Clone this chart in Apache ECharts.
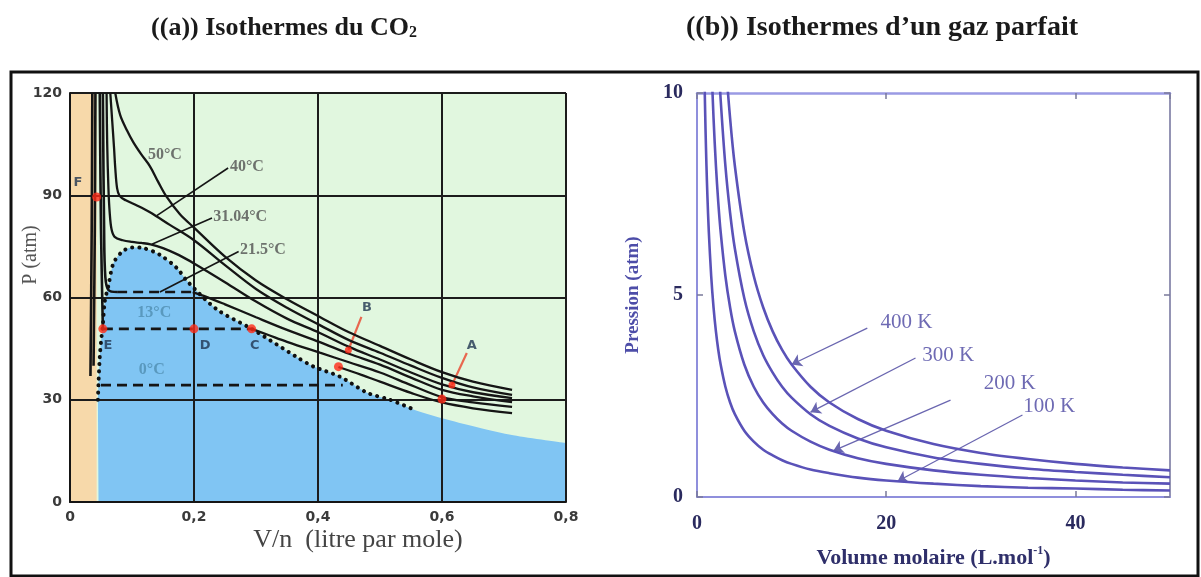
<!DOCTYPE html>
<html><head><meta charset="utf-8">
<script src="https://cdn.jsdelivr.net/npm/echarts@6/dist/echarts.min.js"></script>
<style>html,body{margin:0;padding:0;background:#fff}#c{width:1201px;height:577px}</style>
</head><body><div id="c"></div>
<script>
// ---------- Panel (a) : CO2 isotherms ----------
const aXTicks = ['0', '0,2', '0,4', '0,6', '0,8'];
const aYTicks = ['0', '30', '60', '90', '120'];
const liquidZone = [0, 0.043];
const domeDotted = [[0.045,30],[0.046,35],[0.048,42.5],[0.05,47],[0.053,52],[0.056,58.7],[0.062,63.5],[0.07,70],[0.084,73.4],[0.1,74.7],[0.118,74.5],[0.145,72.5],[0.172,68.7],[0.19,64.6],[0.237,56.5],[0.293,50.8],[0.366,42.5],[0.392,39.8],[0.435,36.8],[0.48,32],[0.516,30],[0.556,27]];
const vapourEdge = [[0.608,24.2],[0.66,21.8],[0.715,19.6],[0.8,17.3]];
const iso50 = [[0.073,120],[0.081,113.5],[0.092,109],[0.102,105.6],[0.115,102],[0.129,98.5],[0.142,94],[0.156,89.5],[0.177,84.5],[0.2,80.5],[0.25,72],[0.3,65],[0.35,59.5],[0.403,54.3],[0.45,49.8],[0.5,45.8],[0.55,41.8],[0.6,38.1],[0.65,35.3],[0.713,32.9]];
const iso40 = [[0.065,120],[0.068,112],[0.071,104],[0.073,98],[0.076,92],[0.08,89.8],[0.09,88.5],[0.108,87],[0.129,85],[0.161,81.3],[0.2,76.8],[0.25,69.5],[0.3,62.5],[0.35,57],[0.403,51.9],[0.45,47.5],[0.5,43.8],[0.55,40],[0.6,36.4],[0.65,33.6],[0.713,31.4]];
const iso31 = [[0.059,120],[0.06,105],[0.062,92],[0.064,85],[0.067,80],[0.072,77.8],[0.085,76.8],[0.1,76.3],[0.115,76],[0.13,75.6],[0.15,74.5],[0.175,72.5],[0.2,70],[0.25,64.5],[0.3,58.8],[0.35,53.8],[0.403,49.6],[0.45,45.5],[0.5,41.8],[0.55,38],[0.6,34.5],[0.65,32.2],[0.713,30.5]];
const iso21 = [[0.198,61.6],[0.22,60.2],[0.25,58],[0.3,54.2],[0.35,50.5],[0.403,46.9],[0.45,43.5],[0.5,40.3],[0.55,36.5],[0.6,32.9],[0.65,31],[0.713,29.3]];
const iso13 = [[0.293,50.8],[0.32,49],[0.35,47],[0.403,43.8],[0.45,41],[0.5,38],[0.55,34.3],[0.6,30.8],[0.65,29.2],[0.713,27.9]];
const iso0 = [[0.433,39.6],[0.47,37.3],[0.5,35.3],[0.55,32],[0.6,29.2],[0.65,27.5],[0.713,26.1]];
const liq0 = [[0.036,120],[0.035,80],[0.033,37]];
const liq0b = [[0.041,120],[0.04,80],[0.038,40]];
const liq13 = [[0.048,120],[0.05,80],[0.053,50.8]];
const liq21 = [[0.053,120],[0.055,80],[0.057,66],[0.062,62.2],[0.076,61.6]];
const plateau21 = [[0.076,61.6],[0.198,61.6]];
const plateau13 = [[0.053,50.8],[0.293,50.8]];
const plateau0 = [[0.05,34.3],[0.44,34.3]];
const redPoints = [[0.043,89.5],[0.053,50.8],[0.2,50.8],[0.293,50.8],[0.449,44.6],[0.433,39.7],[0.616,34.3],[0.6,30.2]];
const pointNames = ['F','E','D','C','B','A'];
const pointNamePos = [[0.013,93.6],[0.061,46],[0.218,46],[0.298,46],[0.479,57],[0.648,46]];
const tempNames = ['50°C','40°C','31.04°C','21.5°C','13°C','0°C'];
const tempNamePos = [[0.153,101.8],[0.258,98.3],[0.231,83.6],[0.274,74],[0.136,55.5],[0.132,38.7]];
const leaders = [[[0.255,98],[0.14,84]],[[0.229,83.3],[0.132,75.6]],[[0.272,73.5],[0.145,61.6]]];
const redLeaders = [[[0.47,54.3],[0.449,44.6]],[[0.64,43.7],[0.616,34.3]]];

// ---------- Panel (b) : ideal gas ----------
const bXTicks = [0, 20, 40];
const bYTicks = [0, 5, 10];
const volumes = [0.8,0.9,1,1.1,1.25,1.5,1.75,2,2.25,2.5,3,3.5,4,5,6,7,8,9,10,12,14,17,20,25,30,35,40,45,50];
const p100 = [10.25,9.11,8.2,7.45,6.56,5.47,4.69,4.1,3.64,3.28,2.73,2.34,2.05,1.64,1.37,1.17,1.03,0.91,0.82,0.68,0.59,0.48,0.41,0.33,0.27,0.23,0.21,0.18,0.16];
const p200 = [20.5,18.2,16.4,14.9,13.1,10.9,9.37,8.2,7.29,6.56,5.47,4.69,4.1,3.28,2.73,2.34,2.05,1.82,1.64,1.37,1.17,0.96,0.82,0.66,0.55,0.47,0.41,0.36,0.33];
const p300 = [30.8,27.3,24.6,22.4,19.7,16.4,14.1,12.3,10.9,9.84,8.2,7.03,6.15,4.92,4.1,3.51,3.08,2.73,2.46,2.05,1.76,1.45,1.23,0.98,0.82,0.70,0.62,0.55,0.49];
const p400 = [41,36.4,32.8,29.8,26.2,21.9,18.7,16.4,14.6,13.1,10.9,9.37,8.2,6.56,5.47,4.69,4.1,3.64,3.28,2.73,2.34,1.93,1.64,1.31,1.09,0.94,0.82,0.73,0.66];
const kNames = ['400 K','300 K','200 K','100 K'];
const kNamePos = [[19.4,4.31],[23.8,3.51],[30.3,2.82],[34.5,2.23]];
const kArrows = [[[18,4.18],[10,3.28]],[[23.1,3.44],[12,2.1]],[[26.8,2.4],[14.4,1.14]],[[34.4,2.03],[21.2,0.39]]];

// ---------- build ----------
const BLACK = '#151515';
const PURPLE = '#5a52b8';
const ARROW = '#6a66b0';
const chart = echarts.init(document.getElementById('c'));

function isoSeries(data, w) {
  return { type:'line', xAxisIndex:0, yAxisIndex:0, data:data, showSymbol:false, symbol:'none',
    smooth:0.35, lineStyle:{color:BLACK, width:w||2.3}, z:5, silent:true };
}
function dashSeries(data) {
  return { type:'line', xAxisIndex:0, yAxisIndex:0, data:data, showSymbol:false, symbol:'none',
    lineStyle:{color:BLACK, width:2.6, type:[10,6]}, z:5, silent:true };
}
function idealSeries(p) {
  return { type:'line', xAxisIndex:1, yAxisIndex:1, data:volumes.map((v,i)=>[v,p[i]]),
    showSymbol:false, symbol:'none', smooth:0.3, clip:true,
    lineStyle:{color:PURPLE, width:2.6}, itemStyle:{color:PURPLE}, z:5, silent:true };
}

const s400 = idealSeries(p400);
s400.markLine = {silent:true, symbol:['none','arrow'], symbolSize:10, label:{show:false}, animation:false,
  itemStyle:{color:ARROW}, lineStyle:{color:ARROW, width:1.3, type:'solid'},
  data:kArrows.map(l=>[{coord:l[0], symbol:'none'},{coord:l[1], symbol:'arrow', symbolSize:10}])};

const series = [
  { type:'line', xAxisIndex:0, yAxisIndex:0, data:domeDotted.concat(vapourEdge),
    showSymbol:false, symbol:'none', smooth:0.3, lineStyle:{width:0}, areaStyle:{color:'#80c5f3', opacity:1}, z:1, silent:true,
    markArea:{silent:true, itemStyle:{color:'#f7d9aa'}, data:[[{coord:[liquidZone[0],0]},{coord:[liquidZone[1],120]}]]} },
  { type:'line', xAxisIndex:0, yAxisIndex:0, data:domeDotted, showSymbol:false, symbol:'none', smooth:0.3,
    lineStyle:{color:'#101010', width:4, type:[0.1,7], cap:'round'}, z:6, silent:true },
  isoSeries(iso50), isoSeries(iso40), isoSeries(iso31), isoSeries(iso21), isoSeries(iso13), isoSeries(iso0),
  isoSeries(liq0, 2.6), isoSeries(liq0b, 2.6), isoSeries(liq13, 2.6), isoSeries(liq21, 2.6),
  dashSeries(plateau21), dashSeries(plateau13), dashSeries(plateau0),
  { type:'scatter', xAxisIndex:0, yAxisIndex:0, data:redPoints.map((p,i)=>({value:p, symbolSize:(i===4||i===6)?7:9})),
    itemStyle:{color:'#ff2a17'}, z:8, silent:true },
  { type:'scatter', xAxisIndex:0, yAxisIndex:0, symbolSize:1, itemStyle:{color:'rgba(0,0,0,0)'}, z:9, silent:true,
    data:pointNames.map((n,i)=>({name:n, value:pointNamePos[i]})),
    label:{show:true, position:'inside', formatter:'{b}', color:'#1f3550', fontFamily:'DejaVu Sans', fontWeight:'bold', fontSize:13} },
  { type:'scatter', xAxisIndex:0, yAxisIndex:0, symbolSize:1, itemStyle:{color:'rgba(0,0,0,0)'}, z:9, silent:true,
    data:tempNames.map((n,i)=>({name:n, value:tempNamePos[i],
      label:{align:(i>=1&&i<=3)?'left':'center', color:(i>=4)?'#4f8db0':'#505050'}})),
    label:{show:true, position:'inside', formatter:'{b}', fontFamily:'Liberation Serif', fontWeight:'bold', fontSize:16},
    markLine:{silent:true, symbol:['none','none'], label:{show:false}, animation:false,
      lineStyle:{color:BLACK, width:1.6, type:'solid'},
      data:leaders.map(l=>[{coord:l[0]},{coord:l[1]}]).concat(
        redLeaders.map(l=>[{coord:l[0], lineStyle:{color:'#e8674f', width:2.2, type:'solid'}},{coord:l[1]}]))} },
  idealSeries(p100), idealSeries(p200), idealSeries(p300), s400,
  { type:'scatter', xAxisIndex:1, yAxisIndex:1, symbolSize:1, itemStyle:{color:'rgba(0,0,0,0)'}, z:9, silent:true,
    data:kNames.map((n,i)=>({name:n, value:kNamePos[i]})),
    label:{show:true, position:'inside', align:'left', formatter:'{b}', color:'#4a45a0', fontFamily:'Liberation Serif', fontSize:21} }
];

const aAxisLabel = {color:'#3a3a3a', fontFamily:'DejaVu Sans', fontWeight:'bold', fontSize:14};
const bAxisLabel = {color:'#2a2a5e', fontFamily:'Liberation Serif', fontWeight:'bold', fontSize:20};
const bTick = {show:true, inside:true, length:6, lineStyle:{color:'#7a7a9a', width:1.5}};

chart.setOption({
  animation:false,
  backgroundColor:'#ffffff',
  grid:[
    {left:70, top:93, width:496, height:409, show:true, backgroundColor:'#e1f7df', borderWidth:0},
    {left:697, top:93, width:473, height:404}
  ],
  xAxis:[
    {type:'value', gridIndex:0, min:0, max:0.8, interval:0.2, z:3,
      axisLine:{show:true, onZero:false, lineStyle:{color:BLACK, width:2}}, axisTick:{show:false},
      splitLine:{show:true, lineStyle:{color:'#1c1c1c', width:2}},
      axisLabel:Object.assign({margin:8, formatter:(v,i)=>aXTicks[i]}, aAxisLabel)},
    {type:'value', gridIndex:1, position:'bottom', min:0, max:50, interval:20,
      axisLine:{show:true, onZero:false, lineStyle:{color:'#8f8fdc', width:2}}, axisTick:bTick,
      splitLine:{show:false},
      axisLabel:Object.assign({margin:17, showMaxLabel:false, formatter:(v,i)=>String(bXTicks[i])}, bAxisLabel),
      name:'{m|Volume molaire (L.mol}{s|-1}{m|)}', nameLocation:'middle', nameGap:48,
      nameTextStyle:{rich:{m:{fontFamily:'Liberation Serif', fontWeight:'bold', fontSize:22, color:'#2f2f6a', lineHeight:26},
                           s:{fontFamily:'Liberation Serif', fontWeight:'bold', fontSize:12, color:'#2f2f6a', lineHeight:12, verticalAlign:'top'}}}},
    {type:'value', gridIndex:1, position:'top', min:0, max:50, interval:20,
      axisLine:{show:true, onZero:false, lineStyle:{color:'#9a9ae4', width:2.5}}, axisTick:bTick,
      splitLine:{show:false}, axisLabel:{show:false}}
  ],
  yAxis:[
    {type:'value', gridIndex:0, min:0, max:120, interval:30, z:3,
      axisLine:{show:true, onZero:false, lineStyle:{color:BLACK, width:2}}, axisTick:{show:false},
      splitLine:{show:true, lineStyle:{color:'#1c1c1c', width:2}},
      axisLabel:Object.assign({margin:8, formatter:(v,i)=>aYTicks[i]}, aAxisLabel)},
    {type:'value', gridIndex:1, position:'left', min:0, max:10, interval:5,
      axisLine:{show:true, onZero:false, lineStyle:{color:'#8f8fdc', width:2}}, axisTick:bTick,
      splitLine:{show:false},
      axisLabel:Object.assign({margin:14, formatter:(v,i)=>String(bYTicks[i])}, bAxisLabel),
      name:'Pression (atm)', nameLocation:'middle', nameGap:54,
      nameTextStyle:{fontFamily:'Liberation Serif', fontWeight:'bold', fontSize:19, color:'#4d4da8'}},
    {type:'value', gridIndex:1, position:'right', min:0, max:10, interval:5,
      axisLine:{show:true, onZero:false, lineStyle:{color:'#9494b4', width:2}}, axisTick:bTick,
      splitLine:{show:false}, axisLabel:{show:false}}
  ],
  series:series,
  graphic:[
    {type:'rect', shape:{x:11, y:72, width:1187, height:504}, style:{fill:'none', stroke:'#111', lineWidth:3}, silent:true},
    {type:'text', x:284, y:28, style:{text:'((a)) Isothermes du CO{s|2}', textAlign:'center', textVerticalAlign:'middle',
      font:'bold 26px "Liberation Serif"', fill:'#1a1a1a',
      rich:{s:{font:'bold 16px "Liberation Serif"', fill:'#1a1a1a', verticalAlign:'bottom', lineHeight:14}}}},
    {type:'text', x:882, y:28, style:{text:'((b)) Isothermes d\u2019un gaz parfait', textAlign:'center', textVerticalAlign:'middle',
      font:'bold 28px "Liberation Serif"', fill:'#1a1a1a'}},
    {type:'text', x:31, y:255, rotation:Math.PI/2, style:{text:'P (atm)', textAlign:'center', textVerticalAlign:'middle',
      font:'20px "Liberation Serif"', fill:'#555'}},
    {type:'text', x:358, y:540, style:{text:'V/n  (litre par mole)', textAlign:'center', textVerticalAlign:'middle',
      font:'26px "Liberation Serif"', fill:'#444'}}
  ]
});
</script></body></html>
